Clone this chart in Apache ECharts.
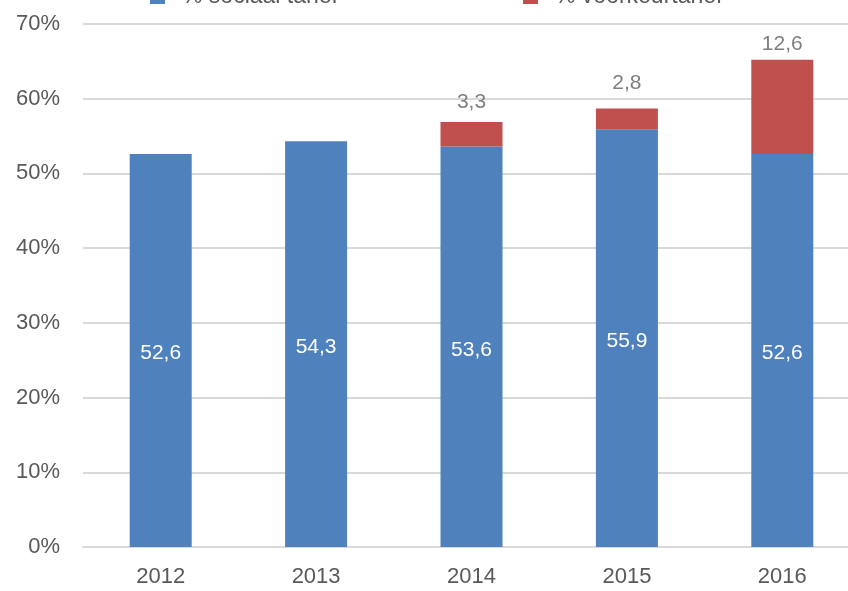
<!DOCTYPE html>
<html>
<head>
<meta charset="utf-8">
<script src="https://cdn.jsdelivr.net/npm/echarts@6/dist/echarts.min.js"></script>
<style>
  html, body { margin: 0; padding: 0; background: #fff; }
  #chart { width: 848px; height: 591px; }
</style>
</head>
<body>
<div id="chart"></div>
<script>
const years = ['2012', '2013', '2014', '2015', '2016']
const sociaal = [52.6, 54.3, 53.6, 55.9, 52.6]
const voorkeur = [null, null, 3.3, 2.8, 12.6]
const yTicks = [0, 10, 20, 30, 40, 50, 60, 70]

// label spacing above the red bars, as placed in the original
const topLabelGap = [5, 5, 9, 15, 5]

const font = '"Liberation Sans", Arial, sans-serif'
const comma = p => String(p.value).replace('.', ',')

const legendBase = {
  top: -20,
  itemWidth: 15, itemHeight: 15, itemGap: 0,
  icon: 'rect',
  textStyle: { fontFamily: font, fontSize: 23, color: '#595959', padding: [0, 0, 0, 12] }
}

const chart = echarts.init(document.getElementById('chart'))

chart.setOption({
  animation: false,
  legend: [
    Object.assign({ data: ['% sociaal tarief'], left: 145 }, legendBase),
    Object.assign({ data: ['% voorkeurtarief'], left: 518 }, legendBase)
  ],
  grid: { left: 83, top: 24, width: 777, height: 523, outerBoundsMode: 'none' },
  xAxis: {
    type: 'category',
    data: years,
    axisTick: { show: false },
    axisLine: { lineStyle: { color: '#d9d9d9', width: 2 } },
    axisLabel: { margin: 19, fontFamily: font, fontSize: 22, color: '#595959' }
  },
  yAxis: {
    type: 'value',
    min: yTicks[0],
    max: yTicks[yTicks.length - 1],
    interval: 10,
    axisLine: { show: false },
    axisTick: { show: false },
    splitLine: { lineStyle: { color: '#d9d9d9', width: 2 } },
    axisLabel: {
      margin: 23,
      fontFamily: font, fontSize: 22, color: '#595959',
      formatter: v => v + '%'
    }
  },
  series: [
    {
      name: '% sociaal tarief',
      type: 'bar',
      stack: 'tarief',
      data: sociaal,
      barWidth: 62,
      itemStyle: { color: '#4F81BD' },
      label: {
        show: true, position: 'inside', offset: [0, 3],
        fontFamily: font, fontSize: 21, color: '#fff',
        formatter: comma
      }
    },
    {
      name: '% voorkeurtarief',
      type: 'bar',
      stack: 'tarief',
      data: voorkeur.map((v, i) => ({ value: v, label: { distance: topLabelGap[i] } })),
      barWidth: 62,
      itemStyle: { color: '#C0504D' },
      label: {
        show: true, position: 'top',
        fontFamily: font, fontSize: 21, color: '#7f7f7f',
        formatter: comma
      }
    }
  ]
})
</script>
</body>
</html>
